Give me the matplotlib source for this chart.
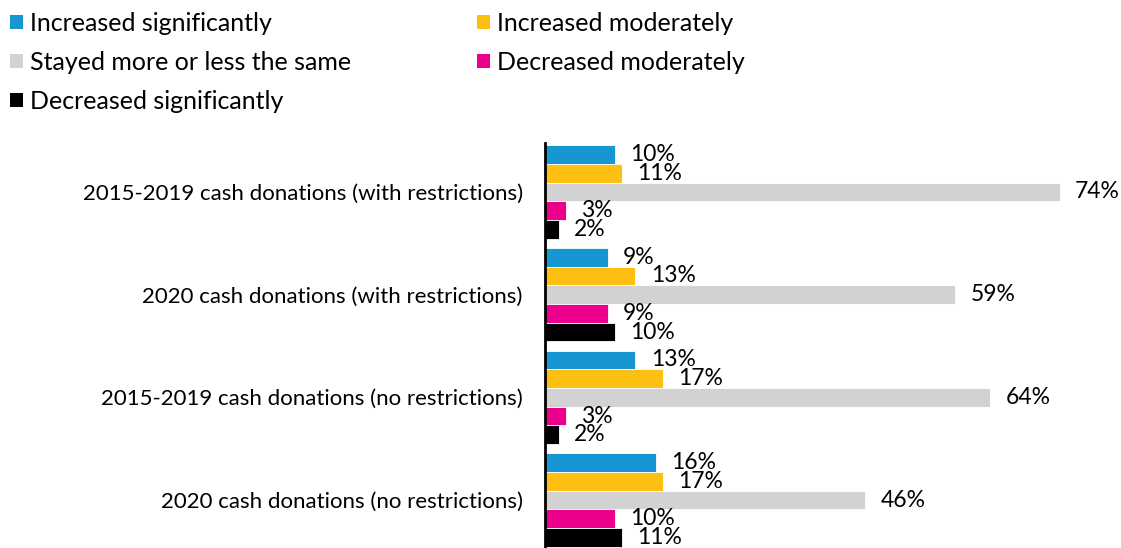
import numpy as np
import matplotlib
matplotlib.use('Agg')
import matplotlib.pyplot as plt
from matplotlib.patches import Patch

plt.rcParams['font.family'] = ['Lato', 'DejaVu Sans']

categories = [
    '2015-2019 cash donations (with restrictions)',
    '2020 cash donations (with restrictions)',
    '2015-2019 cash donations (no restrictions)',
    '2020 cash donations (no restrictions)',
]
series_names = [
    'Increased significantly',
    'Increased moderately',
    'Stayed more or less the same',
    'Decreased moderately',
    'Decreased significantly',
]
inc_sig = [10, 9, 13, 16]
inc_mod = [11, 13, 17, 17]
same = [74, 59, 64, 46]
dec_mod = [3, 9, 3, 10]
dec_sig = [2, 10, 2, 11]
values = [inc_sig, inc_mod, same, dec_mod, dec_sig]
colors = ['#1696d2', '#fdbf11', '#d2d2d2', '#ec008b', '#000000']

fig = plt.figure(figsize=(11.21, 5.48), dpi=100)
ax = fig.add_axes([545 / 1121, 0, 576 / 1121, 405 / 548])

bar_h = 0.182
y = np.arange(len(categories))
for i, (vals, col) in enumerate(zip(values, colors)):
    pos = y + (i - 2) * bar_h
    ax.barh(pos, vals, height=bar_h, color=col, edgecolor='white', linewidth=0.6)
    for p, v in zip(pos, vals):
        ax.annotate(f'{v}%', (v, p), xytext=(11, 0), textcoords='offset points',
                    ha='left', va='center', fontsize=16.5, color='black')

ax.set_xlim(0, 82.8)
ax.set_ylim(3.467, -0.477)
ax.set_yticks(y)
ax.set_yticklabels(categories, fontsize=16)
ax.set_xticks([])
ax.tick_params(axis='y', length=0, pad=16)
for s in ['top', 'right', 'bottom']:
    ax.spines[s].set_visible(False)
ax.spines['left'].set_linewidth(2)
ax.spines['left'].set_color('black')

handles = [Patch(facecolor=c, label=n) for c, n in zip(colors, series_names)]
order = [0, 2, 4, 1, 3]
fig.legend([handles[k] for k in order], [series_names[k] for k in order],
           loc='upper left', bbox_to_anchor=(0.0, 0.996), ncol=2, frameon=False,
           fontsize=18, handlelength=0.5, handleheight=0.5, handletextpad=0.3,
           labelspacing=0.63, columnspacing=5.05, borderaxespad=0.0)

fig.savefig('out.png', dpi=100)
